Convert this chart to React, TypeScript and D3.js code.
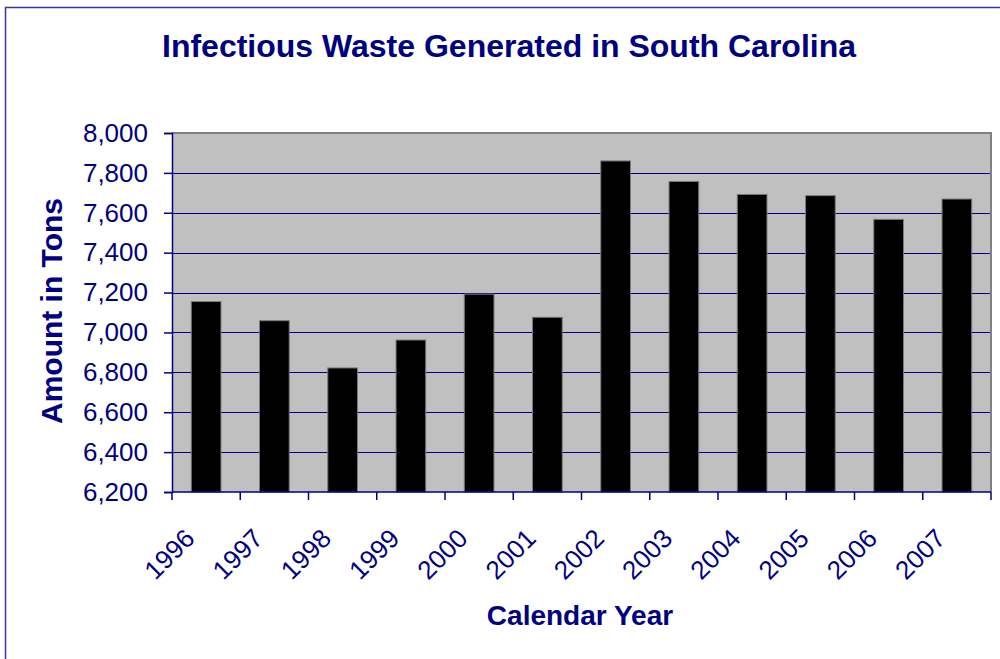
import { useEffect, useRef } from "react";
import * as d3 from "d3";

const years = ["1996", "1997", "1998", "1999", "2000", "2001", "2002", "2003", "2004", "2005", "2006", "2007"];
const tons = [7155, 7059, 6822, 6962, 7192, 7076, 7860, 7757, 7692, 7686, 7567, 7669];
const yTicks = [6200, 6400, 6600, 6800, 7000, 7200, 7400, 7600, 7800, 8000];

const NAVY = "#000080";
const W = 1000;
const H = 659;
const plot = { left: 172, top: 133, right: 991, bottom: 492 };

export default function App() {
  const svgRef = useRef<SVGSVGElement>(null);

  useEffect(() => {
    const svg = d3.select(svgRef.current);
    if (!svg.node()) return;
    svg.selectAll("*").remove();

    const x = d3.scaleBand<string>()
      .domain(years)
      .range([plot.left, plot.right])
      .paddingInner(0.565)
      .paddingOuter(0.2825);

    const y = d3.scaleLinear()
      .domain([6200, 8000])
      .range([plot.bottom, plot.top]);

    // outer frame
    svg.append("rect")
      .attr("x", 5.5).attr("y", 7.5)
      .attr("width", W + 20).attr("height", H + 20)
      .attr("fill", "white")
      .attr("stroke", "#3434a4")
      .attr("stroke-width", 1.5);

    // plot background
    svg.append("rect")
      .attr("x", plot.left).attr("y", plot.top)
      .attr("width", plot.right - plot.left)
      .attr("height", plot.bottom - plot.top)
      .attr("fill", "#c0c0c0");

    // gridlines
    svg.append("g")
      .selectAll("line")
      .data(yTicks.slice(1, -1))
      .join("line")
      .attr("x1", plot.left).attr("x2", plot.right)
      .attr("y1", (d) => Math.round(y(d)) + 0.5)
      .attr("y2", (d) => Math.round(y(d)) + 0.5)
      .attr("stroke", NAVY)
      .attr("stroke-width", 1);

    // plot border top/right (gray)
    svg.append("path")
      .attr("d", `M${plot.left},${plot.top} H${plot.right} V${plot.bottom}`)
      .attr("fill", "none")
      .attr("stroke", "#808080")
      .attr("stroke-width", 2);

    // bars
    svg.append("g")
      .selectAll("rect")
      .data(tons)
      .join("rect")
      .attr("x", (_, i) => x(years[i])!)
      .attr("y", (d) => y(d))
      .attr("width", x.bandwidth())
      .attr("height", (d) => plot.bottom - y(d))
      .attr("fill", "#000")
      .attr("stroke", "#7a7a7a")
      .attr("stroke-width", 1);

    // y axis
    const yAxis = svg.append("g")
      .attr("transform", `translate(${plot.left},0)`)
      .call(d3.axisLeft(y).tickValues(yTicks).tickFormat(d3.format(",")).tickSize(8).tickPadding(16));
    yAxis.select(".domain").attr("stroke", NAVY).attr("stroke-width", 1.5);
    yAxis.selectAll(".tick line").attr("stroke", NAVY).attr("stroke-width", 1.5);
    yAxis.selectAll(".tick text")
      .attr("fill", NAVY)
      .attr("font-family", "Liberation Sans, Arial, sans-serif")
      .attr("font-size", 26);

    // x axis line + ticks at category boundaries
    svg.append("line")
      .attr("x1", plot.left).attr("x2", plot.right)
      .attr("y1", plot.bottom).attr("y2", plot.bottom)
      .attr("stroke", NAVY).attr("stroke-width", 1.5);

    const step = x.step();
    svg.append("g")
      .selectAll("line")
      .data(d3.range(years.length + 1))
      .join("line")
      .attr("x1", (i) => plot.left + i * step)
      .attr("x2", (i) => plot.left + i * step)
      .attr("y1", plot.bottom).attr("y2", plot.bottom + 8)
      .attr("stroke", NAVY).attr("stroke-width", 1.5);

    svg.append("g")
      .selectAll("text")
      .data(years)
      .join("text")
      .attr("transform", (d) => `translate(${x(d)! + x.bandwidth() / 2 - 10},540) rotate(-45)`)
      .attr("text-anchor", "end")
      .attr("fill", NAVY)
      .attr("font-family", "Liberation Sans, Arial, sans-serif")
      .attr("font-size", 26)
      .text((d) => d);

    // titles
    svg.append("text")
      .attr("x", 509).attr("y", 57)
      .attr("text-anchor", "middle")
      .attr("fill", NAVY)
      .attr("font-family", "Liberation Sans, Arial, sans-serif")
      .attr("font-weight", "bold")
      .attr("font-size", 32)
      .text("Infectious Waste Generated in South Carolina");

    svg.append("text")
      .attr("transform", "translate(62,311) rotate(-90)")
      .attr("text-anchor", "middle")
      .attr("fill", NAVY)
      .attr("font-family", "Liberation Sans, Arial, sans-serif")
      .attr("font-weight", "bold")
      .attr("font-size", 30)
      .text("Amount in Tons");

    svg.append("text")
      .attr("x", 580).attr("y", 625)
      .attr("text-anchor", "middle")
      .attr("fill", NAVY)
      .attr("font-family", "Liberation Sans, Arial, sans-serif")
      .attr("font-weight", "bold")
      .attr("font-size", 28)
      .text("Calendar Year");
  }, []);

  return (
    <div style={{ position: "absolute", left: 0, top: 0, width: W, height: H, background: "white" }}>
      <svg ref={svgRef} width={W} height={H} style={{ display: "block" }} />
    </div>
  );
}
